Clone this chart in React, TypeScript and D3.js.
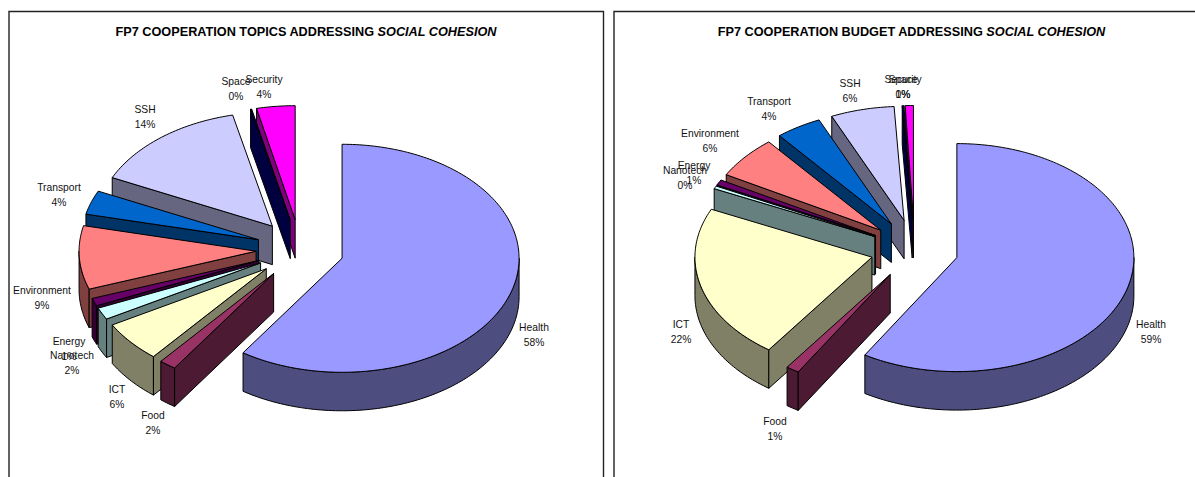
import React from "react";
import * as d3 from "d3";

// ---- data ----
const categories = ["Health", "Food", "ICT", "Nanotech", "Energy", "Environment", "Transport", "SSH", "Space", "Security"];
const topicShares = [59.45, 1.55, 5.8, 1.7, 1.1, 9.0, 3.4, 14.4, 0.1, 3.5];
const topicLabels = ["58%", "2%", "6%", "2%", "1%", "9%", "4%", "14%", "0%", "4%"];
const budgetShares = [58.7, 1.2, 22.0, 0.4, 0.8, 6.0, 4.2, 5.8, 0.15, 0.75];
const budgetLabels = ["59%", "1%", "22%", "0%", "1%", "6%", "4%", "6%", "0%", "1%"];

// ---- styling / layout ----
const topColors = ["#9999FF", "#993366", "#FFFFCC", "#CCFFFF", "#660066", "#FF8080", "#0066CC", "#CCCCFF", "#000080", "#FF00FF"];
const sideColors = ["#4D4D80", "#4D1A33", "#808066", "#668080", "#330033", "#804040", "#003366", "#666680", "#000040", "#800080"];
const RX = 177, RY = 114, DEPTH = 38.5, EX = 44, EY = 30;
const FONT = "'Liberation Sans', Arial, sans-serif";
const topicLabelPos: [number, number][] = [[534, 331], [153, 419], [117, 393], [72, 359], [69, 345], [42, 294], [59, 191], [145, 113], [236, 85], [264, 83]];
const budgetLabelPos: [number, number][] = [[1151, 328], [775, 425], [681, 328], [685, 174], [694, 169], [710, 137], [769, 105], [850, 87], [903, 83], [903, 83]];

type Pt = [number, number];
const lineGen = d3.line<Pt>().x(p => p[0]).y(p => p[1]);

function Pie3D({ cx, cy, shares, labels, labelPos }: { cx: number; cy: number; shares: number[]; labels: string[]; labelPos: Pt[] }) {
  const arcs = d3.pie<number>().sort(null).value(d => d)(shares);
  const items = arcs.map((a, i) => {
    const mid = (a.startAngle + a.endAngle) / 2;
    const ox = cx + Math.sin(mid) * EX;
    const oy = cy - Math.cos(mid) * EY;
    const at = (t: number, dz = 0): Pt => [ox + Math.sin(t) * RX, oy - Math.cos(t) * RY + dz];
    const samples = (t0: number, t1: number) => {
      const n = Math.max(2, Math.ceil((t1 - t0) / 0.02));
      return d3.range(n + 1).map(k => t0 + ((t1 - t0) * k) / n);
    };
    const top: Pt[] = [[ox, oy], ...samples(a.startAngle, a.endAngle).map(t => at(t))];
    const walls: Pt[][] = [];
    const lo = Math.max(a.startAngle, Math.PI / 2);
    const hi = Math.min(a.endAngle, (3 * Math.PI) / 2);
    if (hi > lo) {
      const s = samples(lo, hi);
      walls.push([...s.map(t => at(t)), ...s.slice().reverse().map(t => at(t, DEPTH))]);
    }
    if (Math.sin(a.startAngle) < -1e-6) {
      walls.push([[ox, oy], at(a.startAngle), at(a.startAngle, DEPTH), [ox, oy + DEPTH]]);
    }
    if (Math.sin(a.endAngle) > 1e-6) {
      walls.push([[ox, oy], at(a.endAngle), at(a.endAngle, DEPTH), [ox, oy + DEPTH]]);
    }
    return { i, top, walls };
  });
  return (
    <g>
      {items.slice().reverse().map(it => (
        <g key={it.i} stroke="#000" strokeWidth={1} strokeLinejoin="round">
          {it.walls.map((w, k) => (
            <path key={k} d={lineGen(w) + "Z"} fill={sideColors[it.i]} />
          ))}
          <path d={lineGen(it.top) + "Z"} fill={topColors[it.i]} />
        </g>
      ))}
      {categories.map((c, i) => (
        <text key={c} textAnchor="middle" fontFamily={FONT} fontSize={10.3} fill="#111">
          <tspan x={labelPos[i][0]} y={labelPos[i][1]}>{c}</tspan>
          <tspan x={labelPos[i][0]} y={labelPos[i][1] + 14.7}>{labels[i]}</tspan>
        </text>
      ))}
    </g>
  );
}

function Title({ x, lead }: { x: number; lead: string }) {
  return (
    <text x={x} y={36} textAnchor="middle" fontFamily={FONT} fontSize={12.7} fontWeight="bold" fill="#000">
      {lead} <tspan fontStyle="italic">SOCIAL COHESION</tspan>
    </text>
  );
}

export default function App() {
  return (
    <svg width={1195} height={477} style={{ position: "absolute", left: 0, top: 0, background: "#fff" }}>
      <path d="M9 477V11.5H603.5V477" fill="none" stroke="#222" strokeWidth={1.4} />
      <path d="M614 477V11.5H1195" fill="none" stroke="#222" strokeWidth={1.4} />
      <Title x={306} lead="FP7 COOPERATION TOPICS ADDRESSING" />
      <Title x={911.5} lead="FP7 COOPERATION BUDGET ADDRESSING" />
      <Pie3D cx={300} cy={249.5} shares={topicShares} labels={topicLabels} labelPos={topicLabelPos} />
      <Pie3D cx={914.5} cy={249.5} shares={budgetShares} labels={budgetLabels} labelPos={budgetLabelPos} />
    </svg>
  );
}
